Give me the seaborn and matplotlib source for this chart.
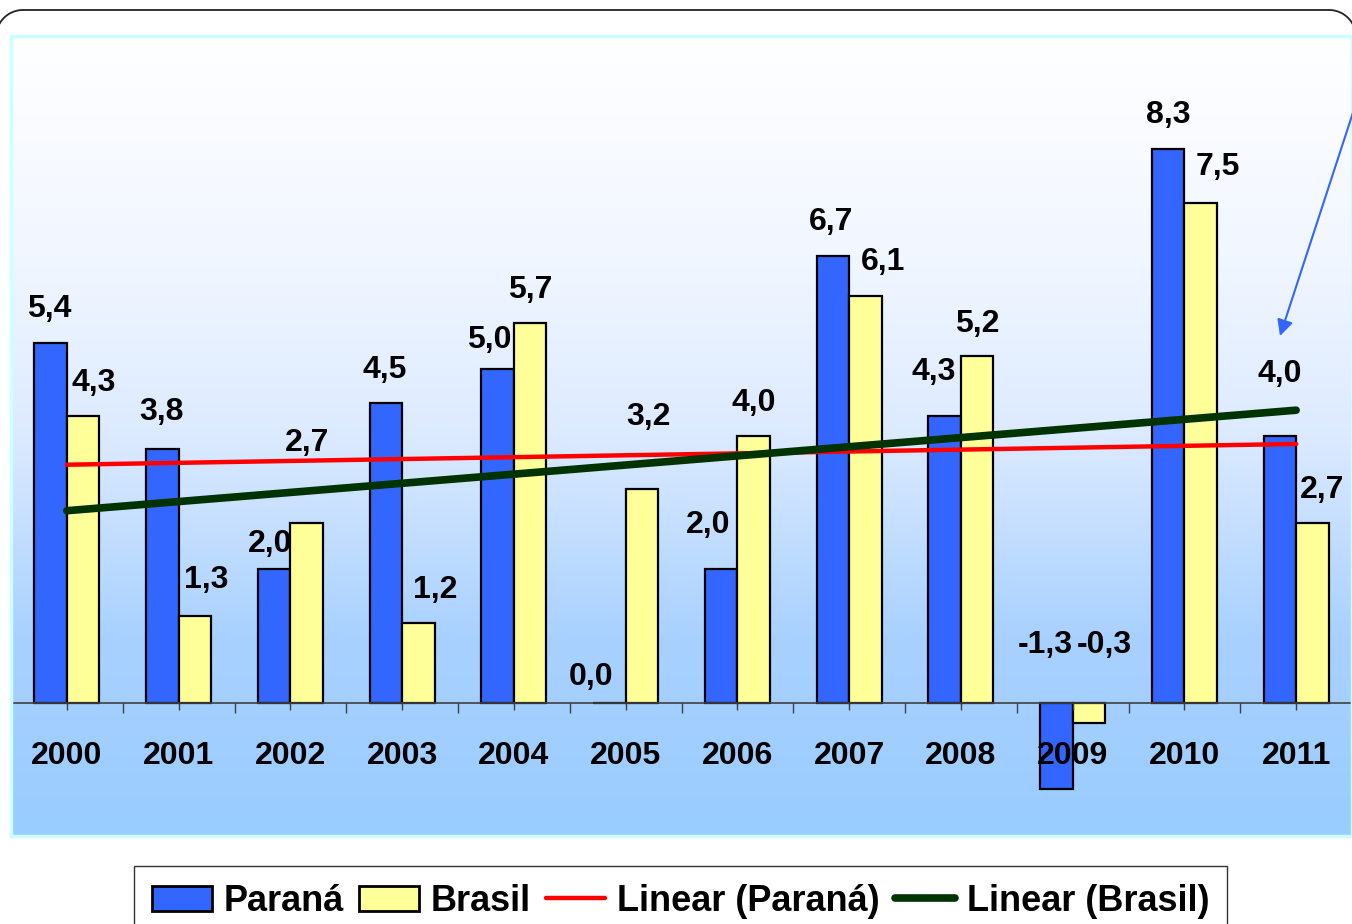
import numpy as np
import pandas as pd
import matplotlib
matplotlib.use("Agg")
import matplotlib.pyplot as plt
from matplotlib.patches import Patch, Rectangle
from matplotlib.lines import Line2D
from matplotlib.colors import LinearSegmentedColormap
import seaborn as sns

# ---- data ----
anos = ["2000", "2001", "2002", "2003", "2004", "2005",
        "2006", "2007", "2008", "2009", "2010", "2011"]
parana = [5.4, 3.8, 2.0, 4.5, 5.0, 0.0, 2.0, 6.7, 4.3, -1.3, 8.3, 4.0]
brasil = [4.3, 1.3, 2.7, 1.2, 5.7, 3.2, 4.0, 6.1, 5.2, -0.3, 7.5, 2.7]
series = ["Paraná", "Brasil"]
legend_labels = ["Paraná", "Brasil", "Linear (Paraná)", "Linear (Brasil)"]

# label nudges in pixels (style only)
nudge_parana = [(-1, 0), (-1, 3), (-4, -9), (-1, -1), (-8, -5), (-18, -8),
                (-13, 10), (-2, 0), (-11, 10), (-11, 0), (0, 0), (0, 28)]
nudge_brasil = [(11, -1), (11, 2), (0, 46), (17, -1), (0, -1), (7, 38),
                (0, -1), (18, 0), (0, -2), (15, 0), (17, 2), (10, -1)]

df = pd.DataFrame({
    "Ano": anos * 2,
    "Valor": parana + brasil,
    "Série": [series[0]] * len(anos) + [series[1]] * len(anos),
})

sns.set_theme(style="white")
plt.rcParams["font.family"] = ["Liberation Sans", "DejaVu Sans"]
plt.rcParams["font.weight"] = "bold"
plt.rcParams["xtick.labelsize"] = 23
plt.rcParams["text.color"] = "black"
plt.rcParams["xtick.labelcolor"] = "black"

W, H = 1352, 924
fig = plt.figure(figsize=(W / 100, H / 100), dpi=100)
fig.patch.set_facecolor("white")

# decoration layer in pixel coordinates (y up)
deco = fig.add_axes([0, 0, 1, 1], zorder=20)
deco.set_xlim(0, W)
deco.set_ylim(0, H)
deco.axis("off")
deco.patch.set_alpha(0)

ax = fig.add_axes([11 / W, (H - 836) / H, (W - 11) / W, 800 / H], zorder=1)
ax.set_facecolor("none")

# gradient background
cmap = LinearSegmentedColormap.from_list(
    "bg", [(0.0, "#ffffff"), (0.29, "#f0f6ff"), (0.5, "#dceaff"),
           (0.75, "#a9d1ff"), (1.0, "#99ccff")])
grad = np.linspace(0, 1, 256).reshape(-1, 1)
ax.imshow(grad, cmap=cmap, aspect="auto", extent=[0, 1, 0, 1],
          transform=ax.transAxes, zorder=0)

blue = "#3366ff"
yellow = "#ffff99"
sns.barplot(data=df, x="Ano", y="Valor", hue="Série", hue_order=series,
            palette=[blue, yellow], saturation=1, width=0.58, gap=0,
            errorbar=None, edgecolor="black", linewidth=1.6, legend=False,
            ax=ax, zorder=2)

xs = np.arange(len(anos))
sns.regplot(x=xs, y=np.array(parana), scatter=False, ci=None, ax=ax,
            color="#ff0000",
            line_kws=dict(lw=3.2, solid_capstyle="round", zorder=5))
sns.regplot(x=xs, y=np.array(brasil), scatter=False, ci=None, ax=ax,
            color="#003300",
            line_kws=dict(lw=5.5, solid_capstyle="round", zorder=6))

ax.set_xlim(-0.5, 11.5)
ax.set_ylim(-2, 10)
ax.set_xlabel("")
ax.set_ylabel("")
ax.set_yticks([])
ax.set_xticks(xs)
ax.set_xticklabels(anos)
ax.set_xticks(np.arange(-0.5, 12, 1), minor=True)
ax.tick_params(axis="x", which="major", direction="out", length=5,
               width=1, color="#404040", pad=22.5, bottom=True, labelsize=23,
               labelcolor="black")
ax.tick_params(axis="x", which="minor", direction="out", length=7.5,
               width=1, color="#404040", bottom=True)
for lab in ax.get_xticklabels():
    lab.set_fontweight("bold")
    lab.set_fontsize(23)
    lab.set_color("black")
for s in ["left", "right", "top"]:
    ax.spines[s].set_visible(False)
ax.spines["bottom"].set_position(("data", 0))
ax.spines["bottom"].set_color("#404040")
ax.spines["bottom"].set_linewidth(1.2)
ax.xaxis.set_zorder(9)
ax.grid(False)

# plot area border
ax.add_patch(Rectangle((0, 0), 1, 1, transform=ax.transAxes, fill=False,
                       edgecolor="#ccffff", lw=2.5, clip_on=False, zorder=10))

# value labels
def fmt(v):
    return f"{v:.1f}".replace(".", ",")

for cont, vals, nudges in zip(ax.containers, [parana, brasil],
                              [nudge_parana, nudge_brasil]):
    for patch, v, (dx, dy) in zip(cont.patches, vals, nudges):
        cx = patch.get_x() + patch.get_width() / 2
        if v >= 0:
            base, off = v, 34
        else:
            base, off = 0, 58
        ax.annotate(fmt(v), xy=(cx, base), xytext=(dx, off + dy),
                    textcoords="offset pixels", ha="center", va="center",
                    fontsize=23, fontweight="bold", color="black", zorder=8)

# legend
handles = [
    Patch(facecolor=blue, edgecolor="black", lw=2),
    Patch(facecolor=yellow, edgecolor="black", lw=2),
    Line2D([], [], color="#ff0000", lw=3.2, solid_capstyle="round"),
    Line2D([], [], color="#003300", lw=5.5, solid_capstyle="round"),
]
leg = fig.legend(handles, legend_labels, loc="upper left",
                 bbox_to_anchor=(134 / W, 1 - 866 / H), ncol=4,
                 prop=dict(family=["Liberation Sans", "DejaVu Sans"],
                           weight="bold", size=26),
                 frameon=True, fancybox=False, edgecolor="black",
                 handlelength=1.65, handleheight=0.7, handletextpad=0.33,
                 columnspacing=0.42, borderpad=0.5, borderaxespad=0,
                 labelcolor="black")
leg.get_frame().set_linewidth(1.0)

# outer rounded border: top edge with rounded corners (pixel coords)
r = 27
top = H - 10
xl, xr = -4, W + 4
th_l = np.linspace(np.pi, np.pi / 2, 30)
th_r = np.linspace(np.pi / 2, 0, 30)
bx = np.concatenate([[xl], xl + r + r * np.cos(th_l),
                     xr - r + r * np.cos(th_r), [xr]])
by = np.concatenate([[-50], top - r + r * np.sin(th_l),
                     top - r + r * np.sin(th_r), [-50]])
deco.plot(bx, by, color="#222222", lw=1.3, clip_on=False,
          solid_joinstyle="round")

# arrow
deco.annotate("", xy=(1280, H - 336), xytext=(1362, H - 85),
              arrowprops=dict(arrowstyle="-|>", mutation_scale=24,
                              color="#3366ff", lw=1.5, shrinkA=0, shrinkB=0),
              annotation_clip=False)

fig.savefig("out.png", dpi=100)
